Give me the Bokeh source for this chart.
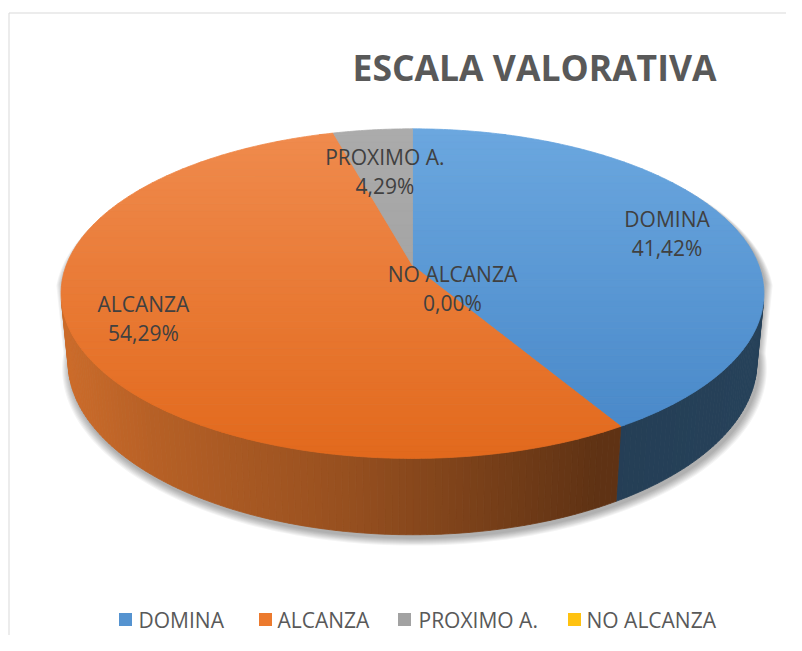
import numpy as np
from bokeh.plotting import figure
from bokeh.models import Range1d
from bokeh.core.properties import value
from bokeh.embed import file_html
from bokeh.resources import INLINE

# ---------------- data ----------------
title_text = "ESCALA VALORATIVA"
categories = ["DOMINA", "ALCANZA", "PROXIMO A.", "NO ALCANZA"]
percent = [41.42, 54.29, 4.29, 0.00]
pct_labels = ["41,42%", "54,29%", "4,29%", "0,00%"]

# ---------------- style ----------------
base_colors = ["#5B9BD5", "#ED7D31", "#A5A5A5", "#FFC000"]
top_light = ["#6BA7DF", "#F08B4E", "#ABABAB", "#FFC820"]
top_dark = ["#4686C7", "#E2691C", "#9C9C9C", "#F2B600"]
legend_colors = ["#5593D0", "#EC7A2E", "#A2A2A2", "#FFC210"]
FONT = "Open Sans"

# perspective projection of a 3-D pie (pixel units)
CX, CYC = 412.0, 265.0      # projected pie centre
A = 346.3                   # horizontal scale
SA, CA = 0.462, 0.887       # sin / cos of elevation
K, KK = 0.1706, 0.0888      # perspective factors
HZ = 0.2236                 # pie thickness (relative to radius)

label_r = [0.79, 0.80, 0.66, 0.0]
label_off = [(0, 0), (0, 0), (0, 0), (40, 23)]
legend_sq_x = [125, 265, 404, 574]
legend_tx_x = [138, 277, 418, 586]
LEGEND_Y = 619

W, H = 786, 635
p = figure(width=W, height=H, output_backend="svg", toolbar_location=None,
           x_range=Range1d(0, W), y_range=Range1d(H, 0),
           min_border=0, outline_line_color=None)
p.axis.visible = False
p.grid.visible = False
p.background_fill_color = "white"
p.border_fill_color = "white"


def hexrgb(h):
    h = h.lstrip("#")
    return np.array([int(h[i:i + 2], 16) for i in (0, 2, 4)], dtype=float)


def rgbhex(c):
    c = np.clip(np.round(c), 0, 255).astype(int)
    return "#%02x%02x%02x" % tuple(c)


def proj(phi_deg, r=1.0, hz=0.0):
    t = np.radians(phi_deg)
    u = r * np.sin(t)
    v = r * np.cos(t)
    den = 1.0 + K * v + hz * KK
    return CX + A * u / den, CYC - A * (v * SA - hz * CA) / den


# angles (clockwise from 12 o'clock)
total = sum(percent)
cum = np.concatenate([[0], np.cumsum(percent)])
starts = cum[:-1] / total * 360.0
ends = cum[1:] / total * 360.0

# ---------------- shadow ----------------
th_back = np.linspace(-95, 95, 140)
th_front = np.linspace(95, 265, 140)
for k in range(8, 0, -1):
    rr = 1.0 + 0.0028 * k
    bx, by = proj(th_back, r=rr, hz=0.0)
    fx, fy = proj(th_front, r=rr, hz=HZ)
    p.patch(np.concatenate([bx, fx]) + 2, np.concatenate([by, fy]) + 3 + 0.3 * k,
            fill_color="#000000", fill_alpha=0.045, line_color=None)

# ---------------- side ----------------
c_sil = -(K / CA) / CA          # silhouette: cos(phi) = -(R/D)/cos(alpha)
a_lo = np.degrees(np.arccos(c_sil))
a_hi = 360.0 - a_lo
fx_pts = [61, 150, 340, 600, 762]
fx_fac = [0.86, 0.77, 0.64, 0.40, 0.42]
sxs, sys_, scol = [], [], []
for i in range(len(percent)):
    a0, a1 = max(starts[i], a_lo), min(ends[i], a_hi)
    if a1 <= a0:
        continue
    n = max(2, int(np.ceil(a1 - a0)) + 1)
    th = np.linspace(a0, a1, n)
    tx, ty = proj(th, 1.0, 0.0)
    bx, by = proj(th, 1.0, HZ)
    base = hexrgb(base_colors[i])
    for j in range(n - 1):
        f = np.interp((tx[j] + tx[j + 1]) / 2, fx_pts, fx_fac)
        sxs.append([tx[j], tx[j + 1], bx[j + 1], bx[j]])
        sys_.append([ty[j], ty[j + 1], by[j + 1], by[j]])
        scol.append(rgbhex(base * f))
p.patches(sxs, sys_, fill_color=scol, line_color=scol, line_width=0.8)


# ---------------- top faces (vertical gradient by bands) ----------------
def clip(poly, inside, inter):
    out = []
    n = len(poly)
    for i in range(n):
        cur, prev = poly[i], poly[i - 1]
        if inside(cur):
            if not inside(prev):
                out.append(inter(prev, cur))
            out.append(cur)
        elif inside(prev):
            out.append(inter(prev, cur))
    return out


def hline_inter(c):
    def f(p0, p1):
        t = (c - p0[1]) / (p1[1] - p0[1])
        return (p0[0] + t * (p1[0] - p0[0]), c)
    return f


_, ytop = proj(0.0)
_, ybot = proj(180.0)
NB = 48
edges = np.linspace(ytop - 1, ybot + 1, NB + 1)
txs, tys, tcol = [], [], []
for i in range(len(percent)):
    if ends[i] - starts[i] <= 0:
        continue
    th = np.linspace(starts[i], ends[i], max(3, int((ends[i] - starts[i]) * 2)))
    ax, ay = proj(th)
    poly = [(CX, CYC)] + list(zip(ax, ay))
    lc, dc = hexrgb(top_light[i]), hexrgb(top_dark[i])
    for b in range(NB):
        y0, y1 = edges[b], edges[b + 1]
        q = clip(poly, lambda P: P[1] >= y0, hline_inter(y0))
        if len(q) < 3:
            continue
        q = clip(q, lambda P: P[1] <= y1, hline_inter(y1))
        if len(q) < 3:
            continue
        t = (b + 0.5) / NB
        c = rgbhex(lc + (dc - lc) * t)
        txs.append([P[0] for P in q])
        tys.append([P[1] for P in q])
        tcol.append(c)
p.patches(txs, tys, fill_color=tcol, line_color=tcol, line_width=0.8)

# ---------------- data labels ----------------
for i in range(len(percent)):
    mid = (starts[i] + ends[i]) / 2.0
    lx, ly = proj(mid, r=label_r[i])
    lx += label_off[i][0]
    ly += label_off[i][1]
    p.text(x=[lx], y=[ly - 14.5], text=[categories[i]], text_font=value(FONT),
           text_font_size="21px", text_color="#404040",
           text_align="center", text_baseline="middle")
    p.text(x=[lx], y=[ly + 14.5], text=[pct_labels[i]], text_font=value(FONT),
           text_font_size="21px", text_color="#404040",
           text_align="center", text_baseline="middle")

# ---------------- title ----------------
p.text(x=[534], y=[66], text=[title_text], text_font=value(FONT),
       text_font_size="35.5px", text_font_style="bold", text_color="#595959",
       text_align="center", text_baseline="middle")

# ---------------- legend ----------------
p.scatter(x=legend_sq_x, y=[LEGEND_Y] * 4, marker="square", size=13,
          fill_color=legend_colors, line_color=None)
p.text(x=legend_tx_x, y=[LEGEND_Y] * 4, text=categories, text_font=value(FONT),
       text_font_size="21px", text_color="#595959",
       text_align="left", text_baseline="middle")

# ---------------- chart-area border ----------------
p.line(x=[8.5, 8.5, W], y=[H, 12.5, 12.5], line_color="#D9D9D9", line_width=1)

open("out.html", "w").write(file_html(p, INLINE))
